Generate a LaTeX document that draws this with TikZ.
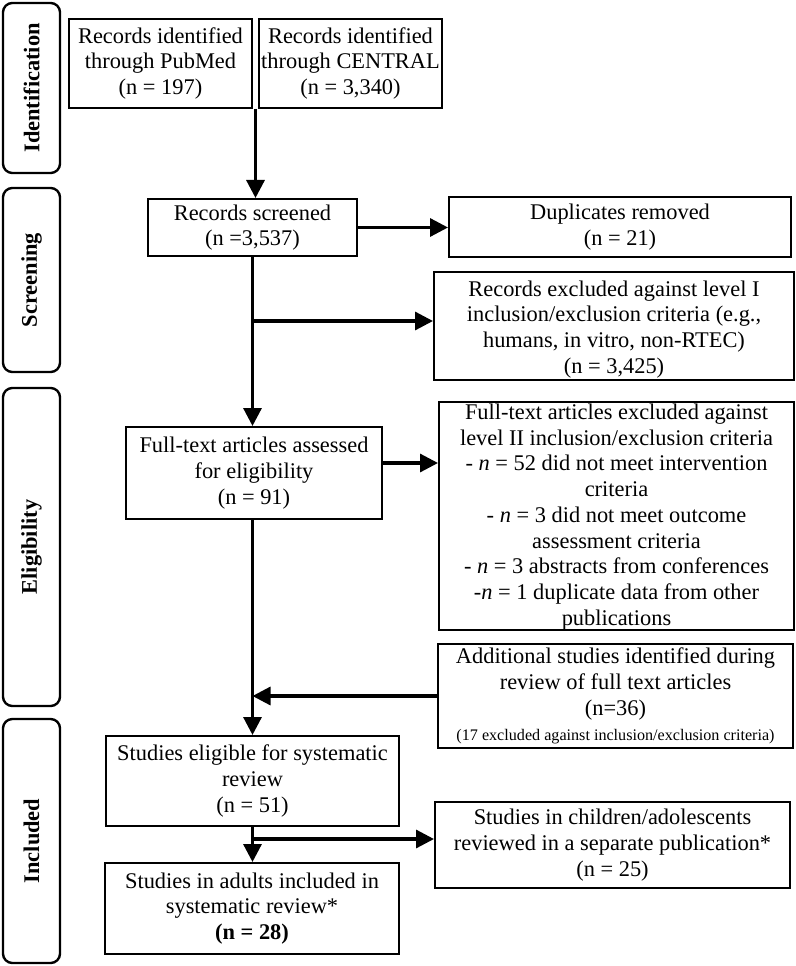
\documentclass[tikz,border=0pt]{standalone}
\usepackage{fontspec}
\setmainfont{Liberation Serif}
\usetikzlibrary{arrows.meta,fit,calc}
\begin{document}
\begin{tikzpicture}[x=0.75pt,y=-0.75pt,
  box/.style={draw, line width=1.5pt, inner sep=0pt},
  txt/.style={inner sep=0pt, align=center, anchor=center, font=\fontsize{16.8}{19.3}\selectfont},
  lab/.style={draw, line width=1.8pt, rounded corners=7pt, inner sep=0pt},
  labtxt/.style={rotate=90, font=\fontsize{16.8}{18}\selectfont\bfseries},
  arr/.style={line width=2.4pt, -{Triangle[length=13.5pt,width=13.5pt]}}]
\useasboundingbox (0,0) rectangle (795,966);
% stage labels
\node[lab, fit={(3,3) (60,173)}] (idlab) {};
\node[labtxt] (idtxt) at (idlab.center) {Identification};
\node[lab, fit={(3,188) (60,372)}] (scrlab) {};
\node[labtxt] (scrtxt) at (scrlab.center) {Screening};
\node[lab, fit={(3,388) (60,706)}] (elilab) {};
\node[labtxt] (elitxt) at (elilab.center) {Eligibility};
\node[lab, fit={(3,719) (60,963)}] (inclab) {};
\node[labtxt] (inctxt) at (inclab.center) {Included};
% boxes
\node[box, fit={(69,19) (252,108)}] (pub) {};
\node[txt] (pubt) at (pub.center) {Records identified\\through PubMed\\(n = 197)};
\node[box, fit={(259,19) (442,108)}] (cen) {};
\node[txt] (cent) at (cen.center) {Records identified\\through CENTRAL\\(n = 3,340)};
\node[box, fit={(148,199) (357,256)}] (scr) {};
\node[txt] (scrt) at (scr.center) {Records screened\\(n =3,537)};
\node[box, fit={(449,197) (791,257)}] (dup) {};
\node[txt] (dupt) at (dup.center) {Duplicates removed\\(n = 21)};
\node[box, fit={(434,272) (794,380)}] (exc1) {};
\node[txt, yshift=-2.5pt] (exc1t) at (exc1.center) {Records excluded against level I\\inclusion/exclusion criteria (e.g.,\\humans, in vitro, non-RTEC)\\(n = 3,425)};
\node[box, fit={(439,402) (794,630)}] (exc2) {};
\node[txt, yshift=-0.8pt] (exc2t) at (exc2.center) {Full-text articles excluded against\\level II inclusion/exclusion criteria\\- \textit{n} = 52 did not meet intervention\\criteria\\- \textit{n} = 3 did not meet outcome\\assessment criteria\\- \textit{n} = 3 abstracts from conferences\\-\textit{n} = 1 duplicate data from other\\publications};
\node[box, fit={(126,427) (382,519)}] (ft) {};
\node[txt] (ftt) at (ft.center) {Full-text articles assessed\\for eligibility\\(n = 91)};
\node[box, fit={(438,644) (793,748)}] (add) {};
\node[txt] (addt) at (add.center) {Additional studies identified during\\review of full text articles\\(n=36)\\{\fontsize{12.1}{13}\selectfont (17 excluded against inclusion/exclusion criteria)}};
\node[box, fit={(106,736) (399,826)}] (eli) {};
\node[txt] (elit) at (eli.center) {Studies eligible for systematic\\review\\(n = 51)};
\node[box, fit={(435,802) (790,888)}] (chi) {};
\node[txt] (chit) at (chi.center) {Studies in children/adolescents\\reviewed in a separate publication*\\(n = 25)};
\node[box, fit={(105,863) (399,954)}] (adu) {};
\node[txt] (adut) at (adu.center) {Studies in adults included in\\systematic review*\\\textbf{(n = 28)}};
% connectors
\coordinate (top) at ($(pub.south east)!0.5!(cen.south west)$);
\draw[arr] (top) -- (top |- scr.north);
\draw[arr] (scr.east) -- (scr.east -| dup.west);
\draw[arr] (scr.south) -- (scr.south |- ft.north);
\coordinate (b1) at (scr.south |- 0,321);
\draw[arr] (b1) -- (b1 -| exc1.west);
\coordinate (b2) at (ft.east |- 0,463);
\draw[arr] (b2) -- (b2 -| exc2.west);
\draw[arr] (eli.north |- ft.south) -- (eli.north);
\draw[arr] (add.west) -- (add.west -| eli.north);
\draw[arr] (eli.south) -- (eli.south |- adu.north);
\coordinate (b3) at (eli.south |- 0,839);
\draw[arr] (b3) -- (b3 -| chi.west);
\end{tikzpicture}
\end{document}
